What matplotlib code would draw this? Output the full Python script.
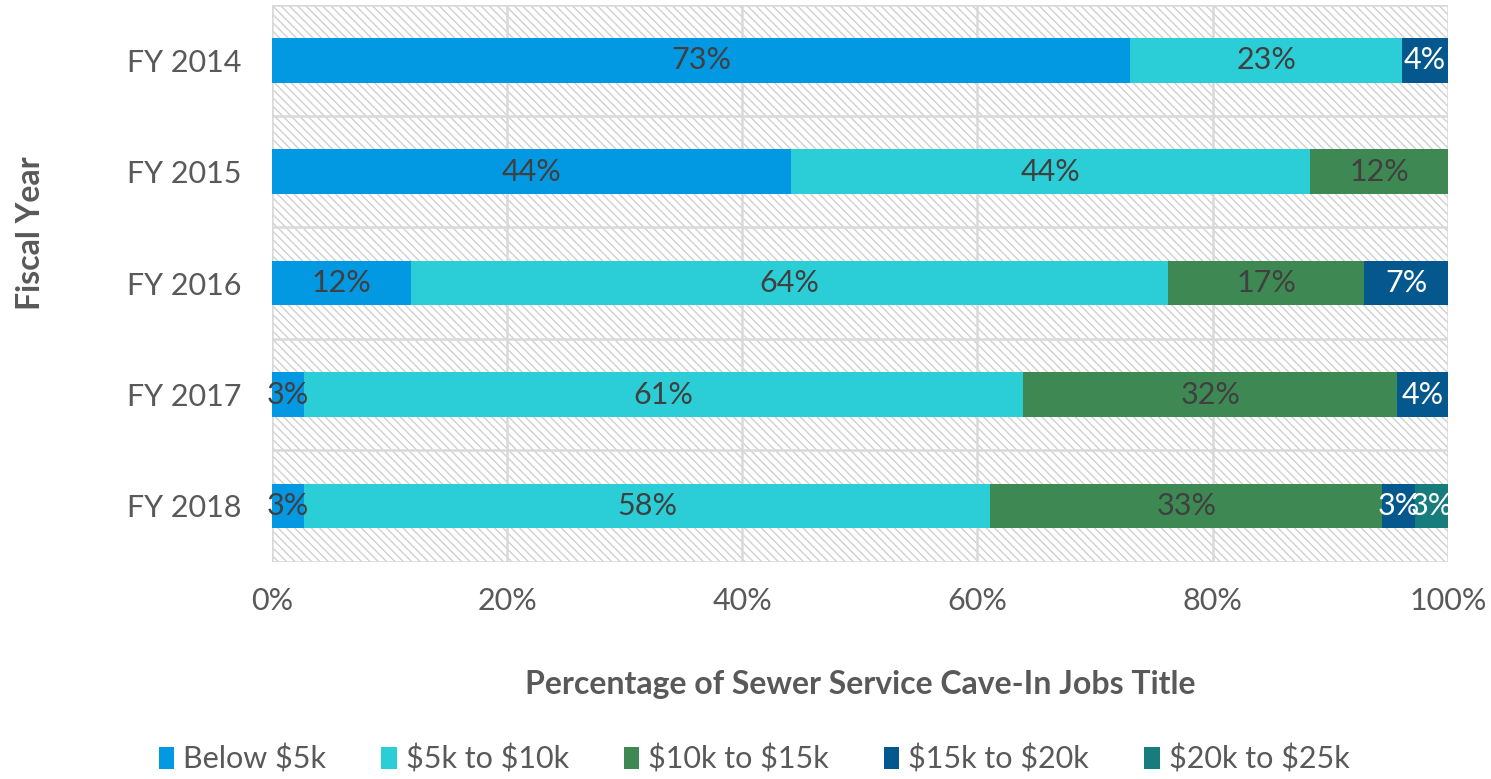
import numpy as np
import matplotlib.pyplot as plt
from matplotlib.patches import Rectangle

plt.rcParams['font.family'] = ['Lato', 'DejaVu Sans']

years = ['FY 2014', 'FY 2015', 'FY 2016', 'FY 2017', 'FY 2018']
series = ['Below \\$5k', '\\$5k to \\$10k', '\\$10k to \\$15k', '\\$15k to \\$20k', '\\$20k to \\$25k']
below_5k = [73.0, 44.1, 11.8, 2.7, 2.7]
k5_10k = [23.1, 44.2, 64.4, 61.2, 58.4]
k10_15k = [0.0, 11.7, 16.7, 31.8, 33.3]
k15_20k = [3.9, 0.0, 7.1, 4.3, 2.8]
k20_25k = [0.0, 0.0, 0.0, 0.0, 2.8]

colors = ['#0398E2', '#2BCED6', '#3E8853', '#04588D', '#177C7C']
text_colors = ['#404040', '#404040', '#404040', 'white', 'white']
gray = '#595959'

fig, ax = plt.subplots(figsize=(14.91, 7.79), dpi=100)
fig.subplots_adjust(left=0.1825, right=0.971, top=0.994, bottom=0.279)

# hatched plot background
ax.add_patch(Rectangle((0, 0), 1, 1, transform=ax.transAxes, facecolor='white',
                       edgecolor='#d0d0d0', hatch='\\\\\\\\', linewidth=0, zorder=0))

y = np.arange(len(years))
left = np.zeros(len(years))
for name, vals, c, tc in zip(series, [below_5k, k5_10k, k10_15k, k15_20k, k20_25k],
                             colors, text_colors):
    vals = np.array(vals)
    ax.barh(y, vals, left=left, height=0.4, color=c, label=name, zorder=3)
    for yi, l, v in zip(y, left, vals):
        if v > 0:
            ax.text(l + v / 2, yi, f'{v:.0f}%', ha='center', va='center',
                    color=tc, fontsize=22, zorder=4)
    left += vals

ax.set_xlim(0, 100)
ax.set_ylim(len(years) - 0.5, -0.5)
ax.set_yticks(y)
ax.set_yticklabels(years)
ax.set_xticks(np.arange(0, 101, 20))
ax.set_xticklabels([f'{v}%' for v in range(0, 101, 20)])
ax.tick_params(axis='both', length=0, labelsize=22, labelcolor=gray)
ax.tick_params(axis='x', pad=18)
ax.tick_params(axis='y', pad=22)

for xv in range(0, 101, 20):
    ax.axvline(xv, color='#d9d9d9', linewidth=1.8, zorder=1)
for yv in np.arange(-0.5, len(years), 1.0):
    ax.axhline(yv, color='#d9d9d9', linewidth=1.8, zorder=1)
for s in ax.spines.values():
    s.set_visible(False)

ax.set_xlabel('Percentage of Sewer Service Cave-In Jobs Title', fontsize=23,
              fontweight='bold', color=gray, labelpad=40)
ax.set_ylabel('Fiscal Year', fontsize=23, fontweight='bold', color=gray)
ax.yaxis.set_label_coords(-0.193, 0.59)

ax.legend(loc='center', bbox_to_anchor=(0.41, -0.355), ncol=5, frameon=False,
          fontsize=22, handlelength=0.5, handleheight=0.7, columnspacing=1.8,
          handletextpad=0.3, labelcolor=gray)

fig.savefig('out.png', dpi=100)
